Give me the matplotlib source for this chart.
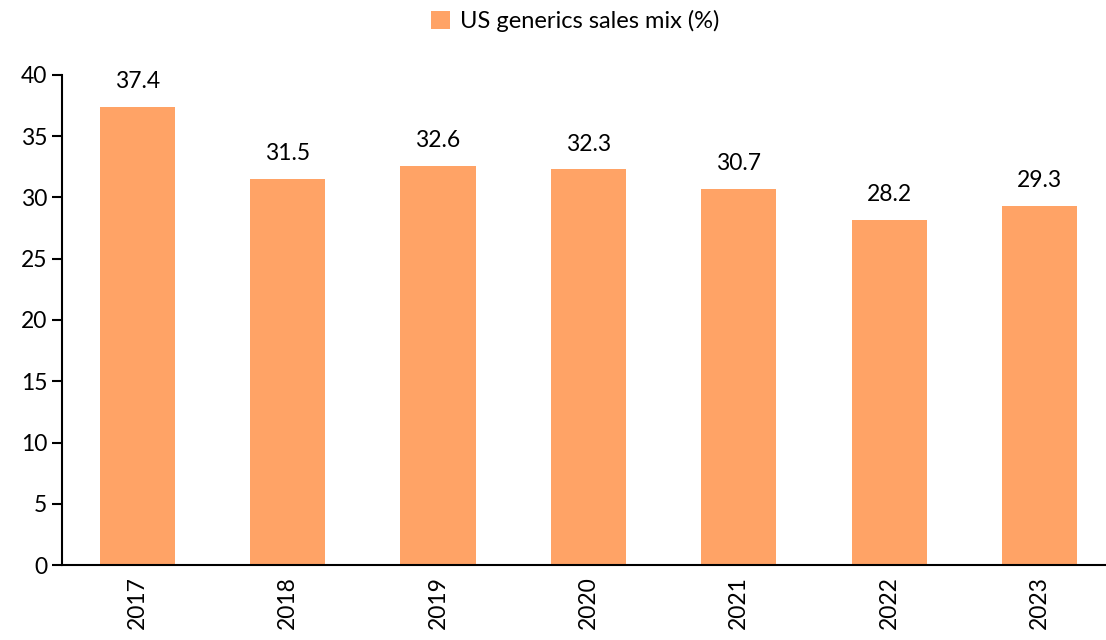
import matplotlib.pyplot as plt

years = ["2017", "2018", "2019", "2020", "2021", "2022", "2023"]
sales_mix = [37.4, 31.5, 32.6, 32.3, 30.7, 28.2, 29.3]

plt.rcParams['font.family'] = ['Lato', 'DejaVu Sans']

fig = plt.figure(figsize=(11.06, 6.4), dpi=100)
ax = fig.add_axes([0.056, 0.117, 0.952, 0.766])

bars = ax.bar(years, sales_mix, width=0.5, color="#FFA366", label="US generics sales mix (%)")

for b, v in zip(bars, sales_mix):
    ax.text(b.get_x() + b.get_width() / 2, v + 1.2, f"{v:.1f}", ha="center", va="bottom", fontsize=16.5)

ax.set_ylim(0, 40)
ax.set_xlim(-0.5, len(years) - 0.5)
ax.set_yticks(range(0, 41, 5))
ax.tick_params(axis="y", labelsize=16.5, length=7, width=1.5, direction="out")
ax.tick_params(axis="x", labelsize=16.5, length=0, rotation=90, pad=8)
ax.spines["top"].set_visible(False)
ax.spines["right"].set_visible(False)
ax.spines["left"].set_linewidth(1.5)
ax.spines["bottom"].set_linewidth(1.5)

fig.legend(loc="upper center", bbox_to_anchor=(0.52, 1.018), frameon=False, fontsize=17,
           handlelength=0.8, handleheight=0.8, handletextpad=0.4)

fig.savefig("out.png")
